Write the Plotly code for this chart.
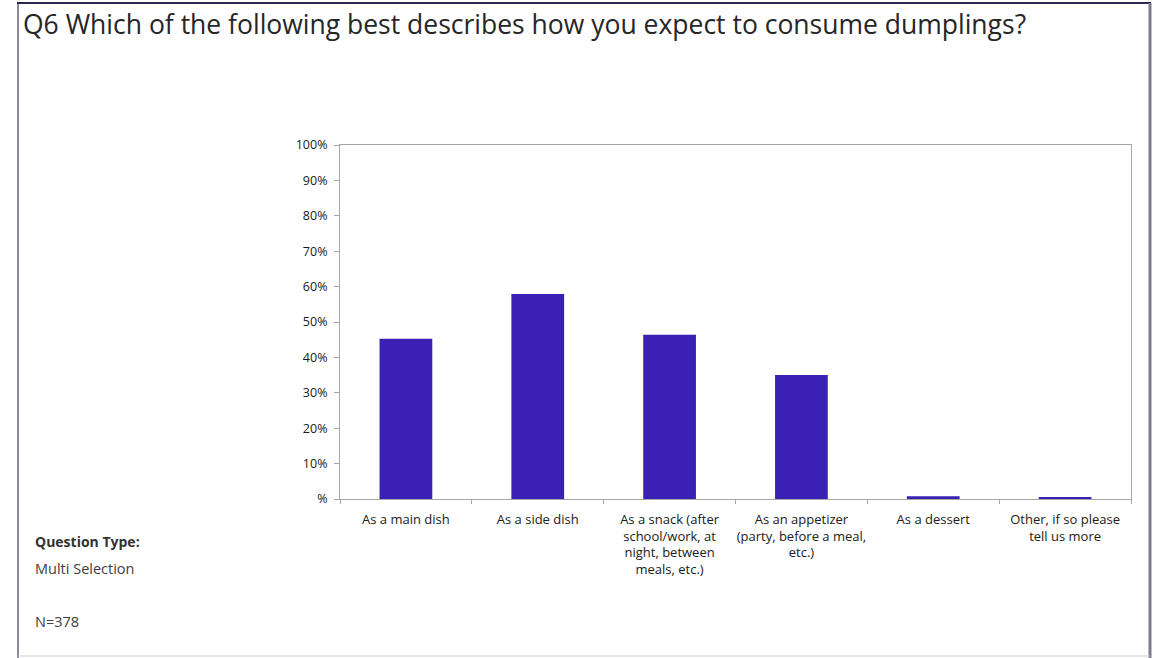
import plotly.graph_objects as go

categories = ["main", "side", "snack", "appetizer", "dessert", "other"]
tick_labels = [
    "As a main dish",
    "As a side dish",
    "As a snack (after<br>school/work, at<br>night, between<br>meals, etc.)",
    "As an appetizer<br>(party, before a meal,<br>etc.)",
    "As a dessert",
    "Other, if so please<br>tell us more",
]
values = [45.3, 57.9, 46.4, 35.0, 0.8, 0.4]
y_ticks = [0, 10, 20, 30, 40, 50, 60, 70, 80, 90, 100]
y_tick_labels = ["%", "10%", "20%", "30%", "40%", "50%", "60%", "70%", "80%", "90%", "100%"]

W, H = 1165, 658
L, R, T, B = 340, 1131, 145, 499

def px(x):
    return (x - L) / (R - L)

def py(y):
    return (B - y) / (B - T)

fig = go.Figure(go.Bar(
    x=categories, y=values,
    marker=dict(color="#3A20B5", line=dict(width=0)),
    width=0.4,
))

fig.update_layout(
    width=W, height=H,
    margin=dict(l=L, r=W - R, t=T, b=H - B, pad=0),
    paper_bgcolor="white", plot_bgcolor="white",
    showlegend=False,
    font=dict(family="Open Sans, sans-serif", color="#404040"),
)
fig.update_xaxes(
    tickmode="array", tickvals=categories, ticktext=tick_labels,
    tickson="boundaries", ticks="outside", ticklen=4, tickcolor="#a6a6a6",
    tickangle=0, automargin=False, ticklabelstandoff=8,
    showline=True, linecolor="#a6a6a6", linewidth=1, mirror=True,
    showgrid=False, tickfont=dict(size=13, color="#202020"),
    range=[-0.5, 5.5], fixedrange=True,
)
fig.update_yaxes(
    range=[0, 100], tickmode="array", tickvals=y_ticks, ticktext=y_tick_labels,
    ticks="outside", ticklen=5, tickcolor="#a6a6a6", automargin=False,
    showline=True, linecolor="#a6a6a6", linewidth=1, mirror=True,
    showgrid=False, zeroline=False, tickfont=dict(size=12.5, color="#1a1a1a"),
    ticklabelstandoff=4,
)

# Outer frame
fig.add_shape(type="line", xref="paper", yref="paper",
              x0=px(18), x1=px(18), y0=py(3), y1=py(658),
              line=dict(color="#8a8a9a", width=2))
fig.add_shape(type="line", xref="paper", yref="paper",
              x0=px(17), x1=px(1151), y0=py(3), y1=py(3),
              line=dict(color="#2a2a50", width=2))
fig.add_shape(type="line", xref="paper", yref="paper",
              x0=px(1150), x1=px(1150), y0=py(3), y1=py(658),
              line=dict(color="#7a7a90", width=3))
fig.add_shape(type="line", xref="paper", yref="paper",
              x0=px(18), x1=px(1150), y0=py(656), y1=py(656),
              line=dict(color="#d0d0d8", width=1))

fig.add_annotation(text="Q6 Which of the following best describes how you expect to consume dumplings?",
                   xref="paper", yref="paper", x=px(21), y=py(24),
                   xanchor="left", yanchor="middle", showarrow=False,
                   font=dict(size=26.5, color="#262626"))
fig.add_annotation(text="<b>Question Type:</b>", xref="paper", yref="paper",
                   x=px(33), y=py(541), xanchor="left", yanchor="middle",
                   showarrow=False, font=dict(size=14, color="#333333"))
fig.add_annotation(text="Multi Selection", xref="paper", yref="paper",
                   x=px(33), y=py(568), xanchor="left", yanchor="middle",
                   showarrow=False, font=dict(size=14.5, color="#404040"))
fig.add_annotation(text="N=378", xref="paper", yref="paper",
                   x=px(33), y=py(621), xanchor="left", yanchor="middle",
                   showarrow=False, font=dict(size=14.5, color="#404040"))

fig.write_html("out.html",
               config={"displayModeBar": False, "responsive": False},
               default_width=W, default_height=H,
               post_script="document.body.style.margin='0';document.body.style.overflow='hidden';")
